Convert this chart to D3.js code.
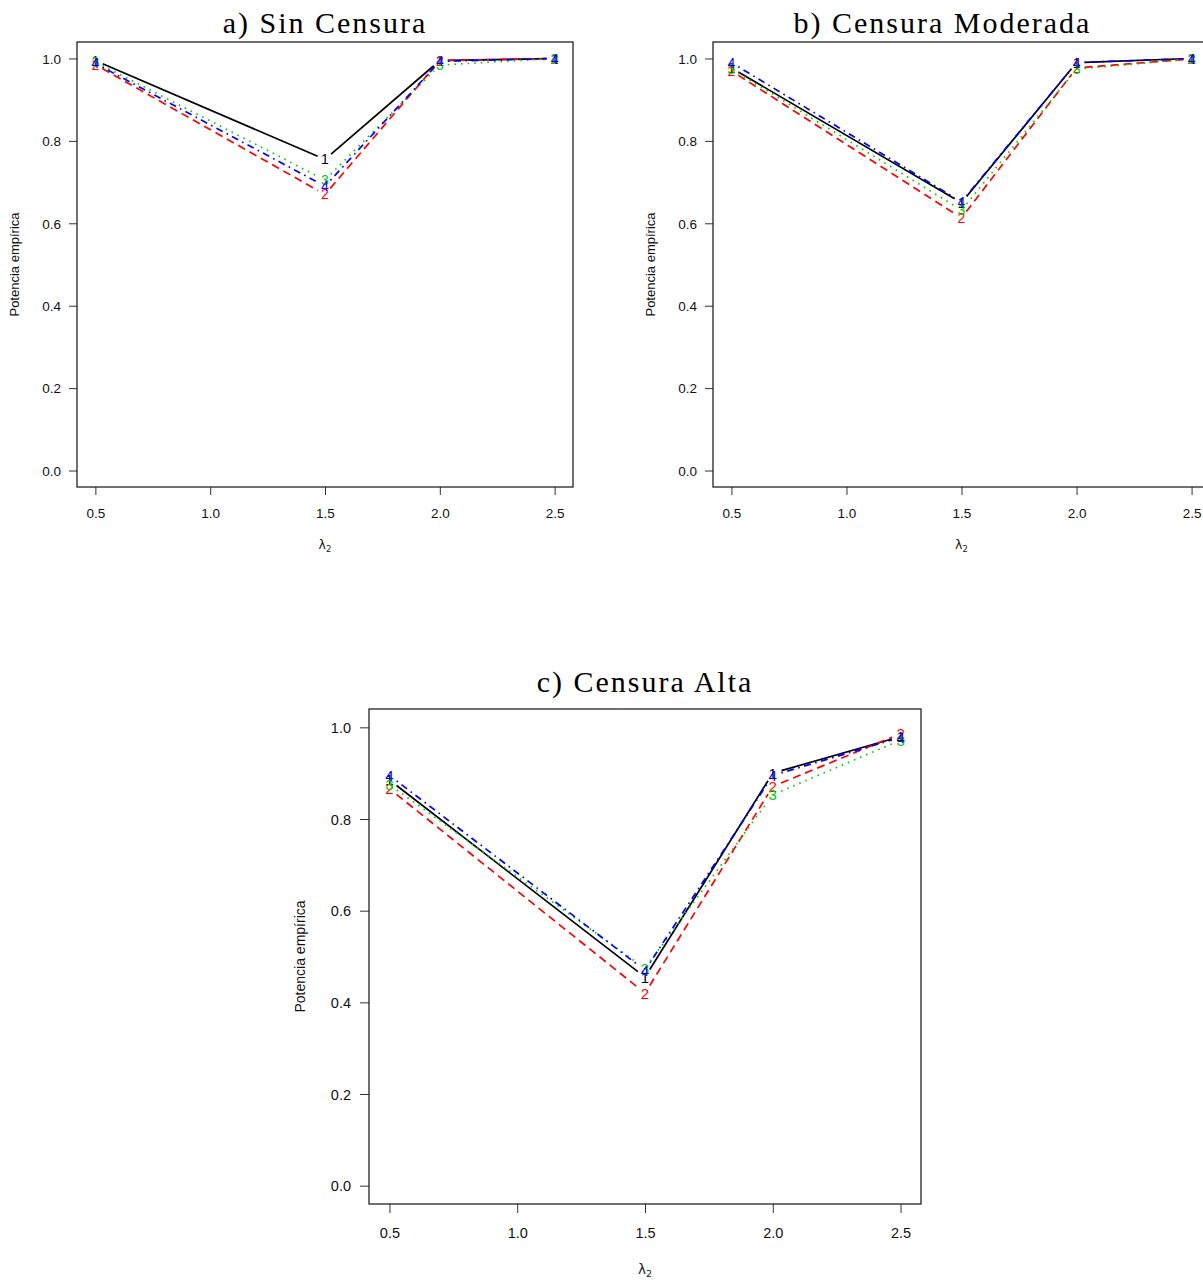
<!DOCTYPE html>
<html>
<head>
<meta charset="utf-8">
<title>Potencia empírica</title>
<script src="https://d3js.org/d3.v7.min.js"></script>
<style>
  body { margin: 0; background: #fff; }
</style>
</head>
<body>
<div id="chart"></div>
<script>
// x values (lambda_2)
var lambda2 = [0.5, 1.5, 2.0, 2.5];
var xTicks = [0.5, 1.0, 1.5, 2.0, 2.5];
var yTicks = [0.0, 0.2, 0.4, 0.6, 0.8, 1.0];

// a) Sin Censura
var sinCensura1 = [0.995, 0.755, 0.995, 1.000];
var sinCensura2 = [0.985, 0.670, 0.995, 1.000];
var sinCensura3 = [0.992, 0.705, 0.984, 1.000];
var sinCensura4 = [0.988, 0.690, 0.993, 1.000];

// b) Censura Moderada
var moderada1 = [0.977, 0.650, 0.990, 1.000];
var moderada2 = [0.970, 0.613, 0.977, 0.999];
var moderada3 = [0.975, 0.632, 0.974, 0.999];
var moderada4 = [0.990, 0.652, 0.990, 1.000];

// c) Censura Alta
var alta1 = [0.885, 0.455, 0.900, 0.980];
var alta2 = [0.866, 0.420, 0.871, 0.986];
var alta3 = [0.875, 0.474, 0.853, 0.972];
var alta4 = [0.895, 0.470, 0.895, 0.978];

var seriesNames = ["1", "2", "3", "4"];
var colors = ["#000000", "#FF0000", "#00CD00", "#0000FF"];
var dashes = [null, "8,5", "1.6,5", "1.6,4.5,7,4.5"];

var W = 1203, H = 1282;
var svg = d3.select("#chart").append("svg")
  .attr("width", W).attr("height", H);

function drawPanel(p) {
  var x = d3.scaleLinear().domain([0.42, 2.58]).range([p.left, p.left + p.width]);
  var y = d3.scaleLinear().domain([-0.04, 1.04]).range([p.top + p.height, p.top]);
  var g = svg.append("g");

  // title
  g.append("text")
    .attr("x", p.left + p.width / 2 - (p.clipShift || 0))
    .attr("y", p.top - p.titleOff)
    .attr("text-anchor", "middle")
    .style("font-family", "'Liberation Serif', 'Times New Roman', serif")
    .style("font-size", "30px")
    .style("letter-spacing", "2px")
    .text(p.title);

  // axes
  var xAxis = d3.axisBottom(x).tickValues(xTicks).tickFormat(d3.format(".1f"))
    .tickSize(p.tick).tickPadding(p.xpad).tickSizeOuter(0);
  var yAxis = d3.axisLeft(y).tickValues(yTicks).tickFormat(d3.format(".1f"))
    .tickSize(p.tick).tickPadding(p.ypad).tickSizeOuter(0);

  var gx = g.append("g").attr("transform", "translate(0," + (p.top + p.height) + ")").call(xAxis);
  var gy = g.append("g").attr("transform", "translate(" + p.left + ",0)").call(yAxis);
  [gx, gy].forEach(function(a) {
    a.select(".domain").remove();
    a.selectAll("line").attr("stroke", "#333");
    a.selectAll("text")
      .style("font-family", "'Liberation Sans', Arial, sans-serif")
      .style("font-size", p.fontSize + "px")
      .attr("fill", "#111");
  });
  gy.selectAll("text").attr("dy", "0.35em");

  // box
  g.append("rect")
    .attr("x", p.left).attr("y", p.top)
    .attr("width", p.width).attr("height", p.height)
    .attr("fill", "none").attr("stroke", "#111").attr("stroke-width", 1.2);

  // axis labels
  var xl = g.append("text")
    .attr("x", x(1.5))
    .attr("y", p.top + p.height + p.xlabOff)
    .attr("text-anchor", "middle")
    .style("font-family", "'DejaVu Sans', sans-serif")
    .style("font-size", (p.fontSize - 1) + "px")
    .attr("fill", "#222");
  xl.append("tspan").text("λ");
  xl.append("tspan").attr("dy", 3).style("font-size", (p.fontSize - 5) + "px").text("2");

  g.append("text")
    .attr("transform", "translate(" + (p.left - p.ylabOff) + "," + (p.top + p.height / 2) + ") rotate(-90)")
    .attr("text-anchor", "middle")
    .style("font-family", "'Liberation Sans', Arial, sans-serif")
    .style("font-size", (p.fontSize - 0.5) + "px")
    .attr("fill", "#111")
    .text("Potencia empírica");

  // series: lines with gaps around the numbered points (type = "b")
  p.series.forEach(function(vals, i) {
    var pts = vals.map(function(v, j) { return [x(lambda2[j]), y(v)]; });
    for (var j = 0; j < pts.length - 1; j++) {
      var a = pts[j], b = pts[j + 1];
      var dx = b[0] - a[0], dy = b[1] - a[1];
      var len = Math.sqrt(dx * dx + dy * dy);
      if (len <= 2 * p.gap) continue;
      var ux = dx / len, uy = dy / len;
      g.append("line")
        .attr("x1", a[0] + ux * p.gap).attr("y1", a[1] + uy * p.gap)
        .attr("x2", b[0] - ux * p.gap).attr("y2", b[1] - uy * p.gap)
        .attr("stroke", colors[i])
        .attr("stroke-width", 1.7)
        .attr("stroke-dasharray", dashes[i]);
    }
    g.selectAll(null).data(pts).enter().append("text")
      .attr("x", function(d) { return d[0]; })
      .attr("y", function(d) { return d[1]; })
      .attr("dy", "0.36em")
      .attr("text-anchor", "middle")
      .style("font-family", "'Liberation Sans', Arial, sans-serif")
      .style("font-size", (p.fontSize + 0.5) + "px")
      .attr("fill", colors[i])
      .text(seriesNames[i]);
  });
}

drawPanel({
  title: "a) Sin Censura", left: 77, top: 42, width: 496, height: 445, titleOff: 9,
  fontSize: 13.5, tick: 8, xpad: 13, ypad: 8, gap: 8, xlabOff: 62, ylabOff: 58,
  series: [sinCensura1, sinCensura2, sinCensura3, sinCensura4]
});

drawPanel({
  title: "b) Censura Moderada", left: 713, top: 42, width: 497, height: 445, titleOff: 9,
  fontSize: 13.5, tick: 8, xpad: 13, ypad: 8, gap: 8, xlabOff: 62, ylabOff: 58,
  clipShift: 19,
  series: [moderada1, moderada2, moderada3, moderada4]
});

drawPanel({
  title: "c) Censura Alta", left: 369, top: 709, width: 552, height: 495, titleOff: 17,
  fontSize: 14.5, tick: 9, xpad: 15, ypad: 9, gap: 9, xlabOff: 70, ylabOff: 64,
  series: [alta1, alta2, alta3, alta4]
});
</script>
</body>
</html>
